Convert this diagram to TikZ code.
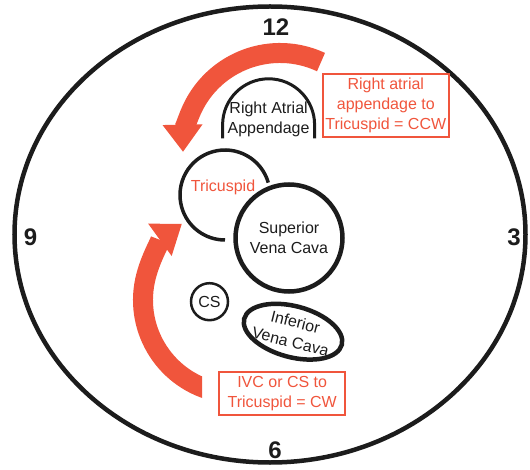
\documentclass[tikz,border=0pt]{standalone}
\usepackage{fontspec}
\setmainfont{Liberation Sans}
\usetikzlibrary{shapes.geometric,arrows.meta}
\definecolor{clockred}{RGB}{240,85,60}
\definecolor{clockink}{RGB}{28,28,28}
\begin{document}
\begin{tikzpicture}[x=1pt,y=1pt,
  font=\fontsize{16}{20}\selectfont,
  hour/.style={font=\fontsize{24}{24}\selectfont\bfseries,text=clockink},
  vessel/.style={draw=clockink,circle,inner sep=0pt,align=center,text=clockink},
  notebox/.style={draw=clockred,line width=2pt,text=clockred,align=center,inner sep=0pt},
  flowarrow/.style={draw=clockred,line width=20pt,-{Triangle[length=27pt,width=40pt,line width=0pt]}}]
\useasboundingbox (0,0) rectangle (530,469);
\node[ellipse,draw=clockink,line width=4.5pt,minimum width=511pt,minimum height=456pt,inner sep=0pt] (face) at (270,234.5) {};
\node[hour] (h12) at (276,441.5) {12};
\node[hour] (h3) at (514,232) {3};
\node[hour] (h9) at (30.5,232) {9};
\node[hour] (h6) at (275,19) {6};

\draw[clockink,line width=3pt] (222.6,330.7) -- (222.6,344.2) arc[start angle=180,end angle=0,radius=46] -- (314.6,330.7);
\node[text=clockink,align=center] (raa) at (268.6,349.7) {Right Atrial\\Appendage};

\draw[clockink,line width=3.5pt] ([shift={(16:45)}]225,274) arc[start angle=16,end angle=270,radius=45];
\node[text=clockred] (tricuspid) at (223,281.3) {Tricuspid};

\node[vessel,line width=4.5pt,minimum size=107pt] (svc) at (289,231) {Superior\\Vena Cava};
\node[vessel,line width=2.5pt,minimum size=37pt] (cs) at (209.5,167.3) {CS};
\node[vessel,ellipse,line width=4.5pt,minimum width=101pt,minimum height=51pt,rotate=-15] (ivc) at (293,137.3) {};
\node[text=clockink,align=center,rotate=-14] (ivclabel) at (ivc) {Inferior\\Vena Cava};

\node[notebox,minimum width=126.4pt,minimum height=63pt] (ccwnote) at (385.8,363.2) {Right atrial\\appendage to\\Tricuspid = CCW};
\node[notebox,minimum width=126.3pt,minimum height=43.3pt] (cwnote) at (282.2,75.7) {IVC or CS to\\Tricuspid = CW};

\coordinate (ccwpivot) at (280,319);
\draw[flowarrow] ([shift={(65:97)}]ccwpivot) arc[start angle=65,end angle=181,radius=97];
\coordinate (cwpivot) at (237,169);
\begin{scope}
  \clip (0,0) rectangle (202,469);
  \draw[flowarrow] ([shift={(258:94)}]cwpivot) arc[start angle=258,end angle=126,radius=94];
\end{scope}
\end{tikzpicture}
\end{document}
